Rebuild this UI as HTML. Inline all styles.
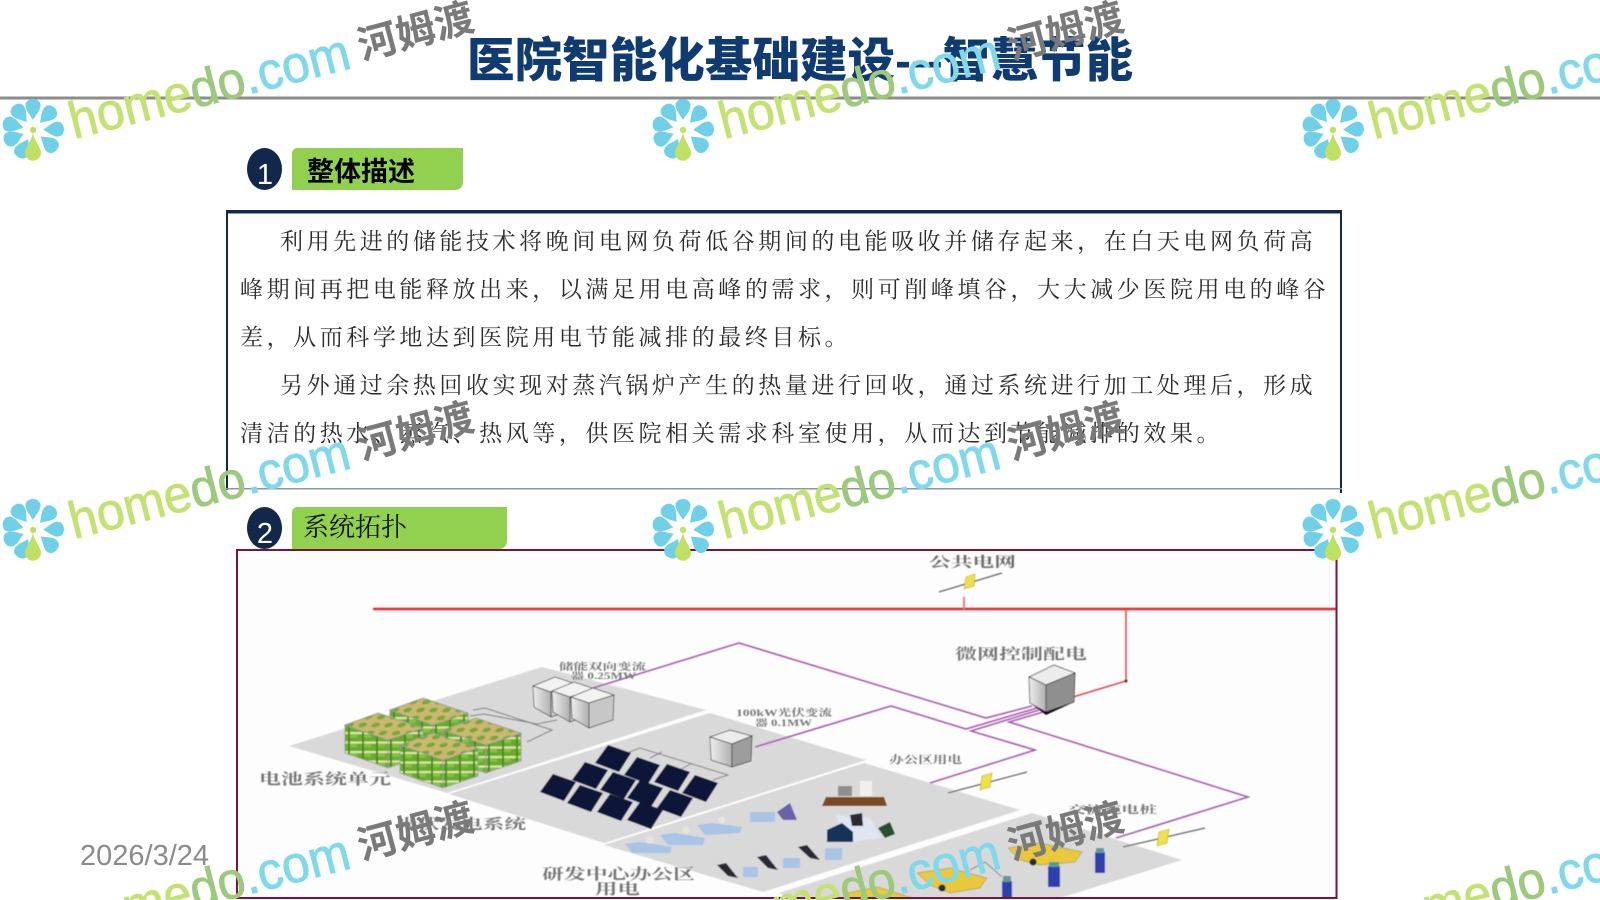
<!DOCTYPE html>
<html><head><meta charset="utf-8"><title>医院智能化基础建设</title>
<style>
html,body{margin:0;padding:0;background:#fff;width:1600px;height:900px;overflow:hidden}
svg{display:block;overflow:hidden}
.t{font-family:"Liberation Serif","Noto Serif CJK SC",serif;font-size:23px;letter-spacing:3.57px;fill:#2c2c2c}
.l{font-family:"Liberation Serif","Noto Serif CJK SC",serif;font-weight:700;fill:#777}
.h{font-family:"Liberation Sans",sans-serif;font-size:52px;stroke-width:.9}
.a{fill:#c4e274;stroke:#c4e274}.b{fill:#9dc97c;stroke:#9dc97c}.c{fill:#7fd9ea;stroke:#7fd9ea}
.d{font-family:"Liberation Sans","Noto Sans CJK SC",sans-serif;font-size:39.500px;font-weight:700;fill:#7a7a7a}
.wm{mix-blend-mode:multiply}
</style></head><body>
<svg width="1600" height="900" viewBox="0 0 1600 900" xmlns="http://www.w3.org/2000/svg">
<defs>
<clipPath id="page"><rect width="1600" height="900"/></clipPath>
<pattern id="bat" width="14" height="9.500" patternUnits="userSpaceOnUse">
<rect width="14" height="9.500" fill="#6bab2f"/><rect width="14" height="2.200" fill="#dbe6a0"/><rect x="0" y="2.200" width="7" height="3.500" fill="#82c244"/><rect x="12" width="2" height="9.500" fill="#4c8a24"/>
</pattern>
<pattern id="battop" width="13" height="8" patternUnits="userSpaceOnUse" patternTransform="skewX(-35)">
<rect width="13" height="8" fill="#c9b86e"/><ellipse cx="6" cy="4" rx="4" ry="2.400" fill="#7ba63a"/>
</pattern>
<linearGradient id="cab" x1="0" x2="1" y1="0" y2="0"><stop offset="0" stop-color="#eee"/><stop offset="1" stop-color="#b0b0b0"/></linearGradient>
<filter id="soft" x="-2%" y="-2%" width="104%" height="104%"><feGaussianBlur stdDeviation="0.6"/></filter>
<path id="pt" d="M0,-10C-2,-14-8,-20-7.500,-25C-7,-33 7,-33 7.500,-25C8,-20 2,-14 0,-10Z"/>
<polygon id="pn" points="-18,5 -5,-13 18,-5 6,14" fill="#0f1638"/>
<g id="flower">
<g fill="#6fd0e8">
<use href="#pt"/>
<use href="#pt" transform="rotate(44)"/>
<use href="#pt" transform="rotate(88)"/>
<use href="#pt" transform="rotate(130)"/>
<use href="#pt" transform="rotate(-152)"/>
<use href="#pt" transform="rotate(-112)"/>
<use href="#pt" transform="rotate(-76)"/>
<use href="#pt" transform="rotate(-38)"/>
</g>
<circle cx="0" cy="0" r="3.200" fill="#bfe063"/>
<path d="M0,3C2,12 9,19 8,24C6,33-6,33-8,24C-9,19-2,12 0,3Z" fill="#bfe063"/>
</g>
<g id="cube" stroke="#9a9a9a" stroke-width=".8">
<polygon points="-33,12 10,27 10,55 -33,40" fill="url(#bat)"/>
<polygon points="10,27 45,15 45,43 10,55" fill="url(#bat)"/>
<polygon points="0,0 45,15 10,27 -33,12" fill="url(#battop)"/>
</g>
<g id="cab3" stroke="#333" stroke-width=".7">
<polygon points="593,688 614,695 589,703 571,697" fill="#f2f2f2"/><polygon points="571,697 589,703 589,728 572,718" fill="url(#cab)"/><polygon points="589,703 614,695 613,720 589,728" fill="#c7c7c7"/>
</g>
</defs>
<rect width="1600" height="900" fill="#fff"/>

<!-- title -->
<text x="467" y="77" font-family="'Liberation Sans','Noto Sans CJK SC',sans-serif" font-size="47.500" font-weight="900" fill="#0f3b70" textLength="666" lengthAdjust="spacing">医院智能化基础建设---智慧节能</text>
<rect x="0" y="96.500" width="1600" height="3" fill="#8c8c8c"/>

<!-- section 1 -->
<ellipse cx="264.500" cy="169" rx="17.500" ry="21" fill="#12284a"/>
<text x="265" y="184" text-anchor="middle" font-family="'Liberation Sans',sans-serif" font-size="29" fill="#fff">1</text>
<path d="M298,148H463V181Q463,190 454,190H292V154Q292,148 298,148Z" fill="#92d050"/>
<text x="307" y="181" font-family="'Liberation Sans','Noto Sans CJK SC',sans-serif" font-size="27" font-weight="700" fill="#000">整体描述</text>

<rect x="226" y="210" width="1116" height="3.500" fill="#12284a"/>
<rect x="226" y="210" width="2" height="280" fill="#12284a"/>
<rect x="1340" y="210" width="2" height="283" fill="#12284a"/>
<rect x="226" y="488" width="1116" height="1.500" fill="#8a97a8"/>

<text class="t" x="280" y="249">利用先进的储能技术将晚间电网负荷低谷期间的电能吸收并储存起来，在白天电网负荷高</text>
<text class="t" x="240" y="297">峰期间再把电能释放出来，以满足用电高峰的需求，则可削峰填谷，大大减少医院用电的峰谷</text>
<text class="t" x="240" y="345">差，从而科学地达到医院用电节能减排的最终目标。</text>
<text class="t" x="280" y="393">另外通过余热回收实现对蒸汽锅炉产生的热量进行回收，通过系统进行加工处理后，形成</text>
<text class="t" x="240" y="441">清洁的热水、蒸汽、热风等，供医院相关需求科室使用，从而达到节能减排的效果。</text>

<!-- section 2 -->
<ellipse cx="264.500" cy="528" rx="17.500" ry="21" fill="#12284a"/>
<text x="265" y="543" text-anchor="middle" font-family="'Liberation Sans',sans-serif" font-size="29" fill="#fff">2</text>
<path d="M298,507H507V540Q507,549 498,549H292V513Q292,507 298,507Z" fill="#92d050"/>
<text x="303" y="536" font-family="'Liberation Serif','Noto Serif CJK SC',serif" font-size="26" fill="#111">系统拓扑</text>

<!-- date -->
<text x="80" y="865" font-family="'Liberation Sans',sans-serif" font-size="29" fill="#8b8b8b">2026/3/24</text>

<!-- diagram -->
<rect x="238" y="550" width="1098" height="348" fill="#fdfdfd"/>
<g filter="url(#soft)" clip-path="url(#page)">
<polygon points="289,746 542,667 706,710 447,793" fill="#d9d9d9"/>
<polygon points="449,794 710,713 866,760 604,843" fill="#d9d9d9"/>
<polygon points="604,845 864,763 1020,810 763,892" fill="#d9d9d9"/>
<polygon points="779,893 1032,813 1182,860 1060,898 790,898" fill="#d9d9d9"/>

<!-- grid lines -->
<line x1="373" y1="609" x2="1336" y2="609" stroke="#e5262b" stroke-width="2.500"/>
<line x1="964" y1="597" x2="964" y2="609" stroke="#ea7a7d" stroke-width="2"/>
<polyline points="1126,609 1126,681 1073,697" fill="none" stroke="#e5414a" stroke-width="1.500"/>
<circle cx="1126" cy="681" r="1.500" fill="#7a2020"/>

<g fill="none" stroke="#a85bb0" stroke-width="1.600">
<polyline points="593,688 739,643 986,718 1032,706"/>
<polyline points="755,747 891,706 966,729 1037,708"/>
<polyline points="1039,710 971,731 1035,750 930,783"/>
<polyline points="1043,712 1009,722 1248,797 1116,838"/>
</g>

<!-- lightning -->
<g stroke="#666" stroke-width="1.200" fill="#efe04a">
<line x1="939" y1="592" x2="1002" y2="573"/>
<polygon points="966,577 975,574 974,586 964,589" stroke="#b7ad2c" stroke-width=".6"/>
<line x1="948" y1="793" x2="1027" y2="772"/>
<polygon points="982,776 992,773 990,787 980,790" stroke="#b7ad2c" stroke-width=".6"/>
<line x1="1123" y1="847" x2="1205" y2="828"/>
<polygon points="1159,832 1169,829 1167,843 1157,846" stroke="#b7ad2c" stroke-width=".6"/>
</g>

<!-- battery wiring -->
<g fill="none" stroke="#7a7a7a" stroke-width="1">
<polyline points="473,710 485,708 552,730 527,742"/>
<polyline points="470,716 484,714 537,724 557,720"/>
</g>

<!-- batteries -->
<use href="#cube" x="423" y="698"/>
<use href="#cube" x="476" y="718"/>
<use href="#cube" x="378" y="713"/>
<use href="#cube" x="433" y="733"/>

<!-- converter trio -->
<use href="#cab3" x="-38" y="-11"/>
<use href="#cab3" x="-19" y="-6"/>
<use href="#cab3"/>

<!-- panel wiring -->
<polyline points="627,753 640,748 728,775 713,780" fill="none" stroke="#808080" stroke-width="1"/>
<polyline points="650,758 662,752" fill="none" stroke="#808080" stroke-width="1"/>
<polyline points="680,770 692,763" fill="none" stroke="#808080" stroke-width="1"/>

<!-- PV cabinet -->
<g stroke="#333" stroke-width=".7">
<polygon points="730,730 752,736 732,744 710,737" fill="#ececec"/><polygon points="710,737 732,744 732,767 711,760" fill="url(#cab)"/><polygon points="732,744 752,736 751,761 732,767" fill="#9d9d9d"/>
</g>

<!-- solar panels -->
<use href="#pn" x="613" y="758"/><use href="#pn" x="642" y="770"/><use href="#pn" x="672" y="777"/><use href="#pn" x="700" y="788"/>
<use href="#pn" x="590" y="775"/><use href="#pn" x="618" y="785"/><use href="#pn" x="645" y="793"/><use href="#pn" x="675" y="803"/>
<use href="#pn" x="558" y="787"/><use href="#pn" x="585" y="798"/><use href="#pn" x="615" y="807"/><use href="#pn" x="645" y="815"/>

<!-- micro-grid cabinet -->
<g stroke="#333" stroke-width=".7">
<polygon points="1054,665 1075,673 1046,685 1029,677" fill="#ececec"/><polygon points="1029,677 1046,685 1046,712 1030,703" fill="url(#cab)"/><polygon points="1046,685 1075,673 1074,702 1046,712" fill="#8f8f8f"/>
</g>
<polygon points="1030,703 1046,712 1074,702 1046,715" fill="#111"/>

<!-- office -->
<g fill="#a8c4e6">
<polygon points="625,844 640,842 672,847 670,853 632,853"/>
<polygon points="660,835 675,833 705,838 703,845 668,845"/>
<polygon points="697,825 712,823 742,827 740,833 705,835"/>
<rect x="750" y="812" width="25" height="10"/>
<rect x="743" y="867" width="15" height="10"/><rect x="783" y="858" width="17" height="10"/><rect x="825" y="848" width="17" height="12"/>
<polygon points="835,815 870,818 882,838 850,842" fill="#dfe6f2"/>
</g>
<g fill="#e8e4dc"><circle cx="650" cy="840" r="3.500"/><circle cx="686" cy="830" r="3.500"/><circle cx="722" cy="820" r="3.500"/></g>
<polygon points="777,812 790,803 797,820 783,820" fill="#6a62a8"/>
<g fill="#2b2b33">
<polygon points="717,865 726,863 738,878 728,876"/><polygon points="757,857 766,855 778,870 768,868"/><polygon points="798,847 807,845 820,860 810,858"/>
<polygon points="850,815 862,813 863,826 852,826"/>
</g>
<polygon points="827,830 842,823 853,832 853,842 827,842" fill="#14305a"/>
<polygon points="878,828 890,822 895,834 885,838" fill="#27502e"/>
<rect x="838" y="786" width="14" height="10" fill="#8f8f8f"/><rect x="860" y="781" width="12" height="15" fill="#f0f0ee"/>
<polygon points="826,797 884,797 887,806 822,806" fill="#7a4a20"/>

<!-- EV area -->
<g fill="#e9c93a" stroke="#8d7a1a" stroke-width=".5">
<polygon points="1008,848 1040,843 1082,852 1075,862 1040,865 1020,860"/>
<polygon points="917,873 950,868 987,878 980,888 950,893 930,885"/>
<polygon points="847,893 878,887 913,898 850,898"/>
</g>
<g fill="#2a2a2a"><circle cx="1033" cy="862" r="3.500"/><circle cx="942" cy="888" r="3.500"/></g>
<g fill="#2f3fae">
<rect x="1048" y="866" width="12" height="21"/><rect x="1095" y="852" width="10" height="21"/><rect x="1002" y="881" width="10" height="17"/>
</g>
<g fill="#5a9a9a"><rect x="1049" y="862" width="10" height="5"/><rect x="1096" y="848" width="8" height="5"/><rect x="1003" y="876" width="8" height="6"/></g>
<polyline points="970,870 985,862 1002,877" fill="none" stroke="#888"/>

<!-- labels -->
<text class="l" x="929" y="567" font-size="14" textLength="87" lengthAdjust="spacingAndGlyphs" style="fill:#6e6e6e">公共电网</text>
<text class="l" x="955" y="659" font-size="15" textLength="132" lengthAdjust="spacingAndGlyphs">微网控制配电</text>
<text class="l" x="259" y="784" font-size="15" textLength="132" lengthAdjust="spacingAndGlyphs">电池系统单元</text>
<text class="l" x="396" y="829" font-size="14" textLength="130" lengthAdjust="spacingAndGlyphs">光伏发电系统</text>
<text class="l" x="542" y="879" font-size="15" textLength="153" lengthAdjust="spacingAndGlyphs">研发中心办公区</text>
<text class="l" x="595" y="894" font-size="15" textLength="45" lengthAdjust="spacingAndGlyphs">用电</text>
<text class="l" x="559" y="670" font-size="9.500" textLength="87" lengthAdjust="spacingAndGlyphs">储能双向变流</text>
<text class="l" x="571" y="679" font-size="9" textLength="65" lengthAdjust="spacingAndGlyphs">器 0.25MW</text>
<text class="l" x="736" y="716" font-size="9.500" textLength="96" lengthAdjust="spacingAndGlyphs">100kW光伏变流</text>
<text class="l" x="755" y="726" font-size="9" textLength="57" lengthAdjust="spacingAndGlyphs">器 0.1MW</text>
<text class="l" x="889" y="763" font-size="10.500" textLength="73" lengthAdjust="spacingAndGlyphs">办公区用电</text>
<text class="l" x="1068" y="813" font-size="10.500" textLength="89" lengthAdjust="spacingAndGlyphs">交流充电桩</text>
</g>
<!-- diagram frame -->
<rect x="237" y="550" width="1099.500" height="348" fill="none" stroke="#7b1538" stroke-width="2"/>

<!-- watermark tiles -->
<g clip-path="url(#page)">
<g class="wm">
<use href="#flower" x="33" y="130"/>
<use href="#flower" x="683" y="130"/>
<use href="#flower" x="1333" y="130"/>
<use href="#flower" x="33" y="530"/>
<use href="#flower" x="683" y="530"/>
<use href="#flower" x="1333" y="530"/>
</g>
<g class="wm">
<g transform="translate(74,139) rotate(-14.300)"><text class="h" textLength="288" lengthAdjust="spacingAndGlyphs"><tspan class="a">home</tspan><tspan class="b">do</tspan><tspan class="c">.com</tspan></text></g><text class="d" transform="translate(362,60) rotate(-15)">河姆渡</text>
<g transform="translate(724,139) rotate(-14.300)"><text class="h" textLength="288" lengthAdjust="spacingAndGlyphs"><tspan class="a">home</tspan><tspan class="b">do</tspan><tspan class="c">.com</tspan></text></g><text class="d" transform="translate(1012,60) rotate(-15)">河姆渡</text>
<g transform="translate(1374,139) rotate(-14.300)"><text class="h" textLength="288" lengthAdjust="spacingAndGlyphs"><tspan class="a">home</tspan><tspan class="b">do</tspan><tspan class="c">.com</tspan></text></g>
<g transform="translate(74,539) rotate(-14.300)"><text class="h" textLength="288" lengthAdjust="spacingAndGlyphs"><tspan class="a">home</tspan><tspan class="b">do</tspan><tspan class="c">.com</tspan></text></g><text class="d" transform="translate(362,460) rotate(-15)">河姆渡</text>
<g transform="translate(724,539) rotate(-14.300)"><text class="h" textLength="288" lengthAdjust="spacingAndGlyphs"><tspan class="a">home</tspan><tspan class="b">do</tspan><tspan class="c">.com</tspan></text></g><text class="d" transform="translate(1012,460) rotate(-15)">河姆渡</text>
<g transform="translate(1374,539) rotate(-14.300)"><text class="h" textLength="288" lengthAdjust="spacingAndGlyphs"><tspan class="a">home</tspan><tspan class="b">do</tspan><tspan class="c">.com</tspan></text></g>
<g transform="translate(74,939) rotate(-14.300)"><text class="h" textLength="288" lengthAdjust="spacingAndGlyphs"><tspan class="a">home</tspan><tspan class="b">do</tspan><tspan class="c">.com</tspan></text></g><text class="d" transform="translate(362,860) rotate(-15)">河姆渡</text>
<g transform="translate(724,939) rotate(-14.300)"><text class="h" textLength="288" lengthAdjust="spacingAndGlyphs"><tspan class="a">home</tspan><tspan class="b">do</tspan><tspan class="c">.com</tspan></text></g><text class="d" transform="translate(1012,860) rotate(-15)">河姆渡</text>
<g transform="translate(1374,939) rotate(-14.300)"><text class="h" textLength="288" lengthAdjust="spacingAndGlyphs"><tspan class="a">home</tspan><tspan class="b">do</tspan><tspan class="c">.com</tspan></text></g>
</g>
</g>
</svg>
</body></html>
